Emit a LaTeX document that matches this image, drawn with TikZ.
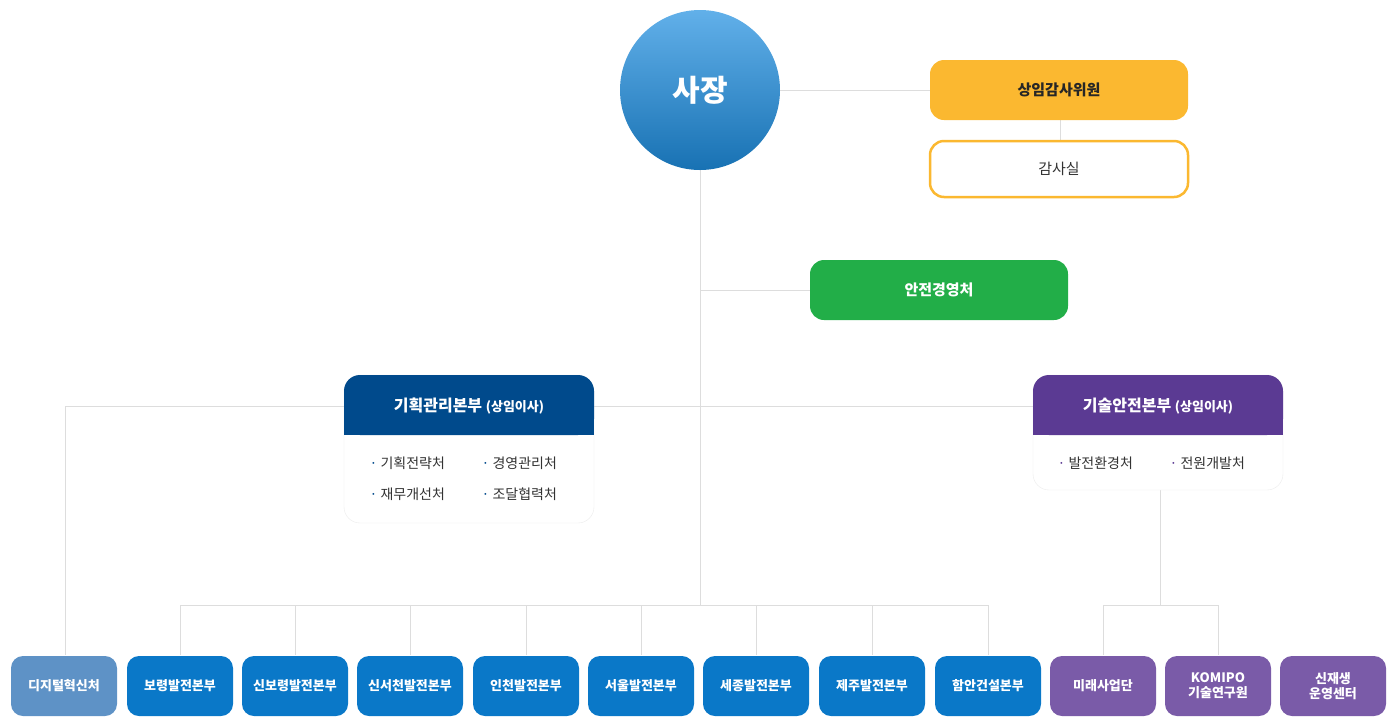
\documentclass[tikz,border=0pt]{standalone}
\usepackage{fontspec}
\setmainfont{Noto Sans CJK KR}
\usetikzlibrary{positioning}
\definecolor{ceoblue}{HTML}{1E8EE0}
\definecolor{audityellow}{HTML}{FBB830}
\definecolor{safegreen}{HTML}{22AE48}
\definecolor{planblue}{HTML}{004A8C}
\definecolor{techpurple}{HTML}{5B3A93}
\definecolor{unitblue}{HTML}{0A78C8}
\definecolor{digiblue}{HTML}{5E92C6}
\definecolor{newpurple}{HTML}{7A5BA8}
\definecolor{linegray}{HTML}{DDDDDD}
\tikzset{
  conn/.style={draw=linegray, line width=0.8pt},
  topbox/.style={rounded corners=14pt, minimum width=258pt, minimum height=60pt, font=\fontsize{15}{18}\selectfont\bfseries},
  unitbox/.style={rounded corners=12pt, minimum width=106pt, minimum height=60pt, text=white, align=center, font=\fontsize{13}{15}\selectfont\bfseries},
  itemtext/.style={font=\fontsize{14}{16}\selectfont, text=black!80, anchor=west}
}
\begin{document}
\begin{tikzpicture}[x=1pt, y=-1pt]
  \useasboundingbox (0,0) rectangle (1400,716);

  % trunk and branches
  \coordinate (trunkT) at (700,170);
  \coordinate (trunkB) at (700,605);
  \draw[conn] (trunkT) -- (trunkB);
  \draw[conn] (700,290) -- (810,290);
  \draw[conn] (780,90) -- (930,90);
  \draw[conn] (1060,120) -- (1060,140);
  \draw[conn] (65,406) -- (1033,406);
  \draw[conn] (65,406) -- (65,655);
  \draw[conn] (180,605) -- (988,605);
  \foreach \x in {180,295,410,526,641,756,872,988}
    \draw[conn] (\x,605) -- (\x,655);
  \draw[conn] (1160,490) -- (1160,605);
  \draw[conn] (1103,605) -- (1218,605);
  \draw[conn] (1103,605) -- (1103,655);
  \draw[conn] (1218,605) -- (1218,655);

  % president
  \node[circle, minimum size=160pt, inner sep=0pt, top color=ceoblue!70, bottom color=ceoblue!80!black, text=white,
        font=\fontsize{30}{34}\selectfont\bfseries] (ceo) at (700,90) {사장};

  % audit
  \node[topbox, fill=audityellow, text=black!85] (audit) at (1059,90) {상임감사위원};
  \node[topbox, draw=audityellow, line width=2.5pt, fill=white, minimum height=56pt,
        font=\fontsize{15}{18}\selectfont, text=black!80] (auditoffice) at (1059,169) {감사실};

  % safety
  \node[topbox, fill=safegreen, text=white] (safety) at (939,290) {안전경영처};

  % planning division
  \fill[white, rounded corners=16pt, draw=black!8] (344,375) rectangle (594,523);
  \fill[planblue, rounded corners=16pt] (344,375) rectangle (594,435);
  \fill[planblue] (344,415) rectangle (594,435);
  \node[text=white, font=\fontsize{16}{18}\selectfont\bfseries] (plan) at (469,406) {기획관리본부 {\fontsize{13}{15}\selectfont(상임이사)}};
  \node[itemtext] (p1) at (366,463) {{\color{planblue}·}\ 기획전략처};
  \node[itemtext] (p2) at (478,463) {{\color{planblue}·}\ 경영관리처};
  \node[itemtext] (p3) at (366,494) {{\color{planblue}·}\ 재무개선처};
  \node[itemtext] (p4) at (478,494) {{\color{planblue}·}\ 조달협력처};

  % technology division
  \fill[white, rounded corners=16pt, draw=black!8] (1033,375) rectangle (1283,490);
  \fill[techpurple, rounded corners=16pt] (1033,375) rectangle (1283,435);
  \fill[techpurple] (1033,415) rectangle (1283,435);
  \node[text=white, font=\fontsize{16}{18}\selectfont\bfseries] (tech) at (1158,406) {기술안전본부 {\fontsize{13}{15}\selectfont(상임이사)}};
  \node[itemtext] (t1) at (1054,463) {{\color{techpurple}·}\ 발전환경처};
  \node[itemtext] (t2) at (1166,463) {{\color{techpurple}·}\ 전원개발처};

  % bottom units
  \node[unitbox, fill=digiblue] (u1) at (64,686) {디지털혁신처};
  \foreach \x/\name/\lbl in {180/u2/보령발전본부, 295/u3/신보령발전본부, 410/u4/신서천발전본부, 526/u5/인천발전본부,
                             641/u6/서울발전본부, 756/u7/세종발전본부, 872/u8/제주발전본부, 988/u9/함안건설본부}
    \node[unitbox, fill=unitblue] (\name) at (\x,686) {\lbl};
  \node[unitbox, fill=newpurple] (u10) at (1103,686) {미래사업단};
  \node[unitbox, fill=newpurple] (u11) at (1218,686) {KOMIPO\\기술연구원};
  \node[unitbox, fill=newpurple] (u12) at (1333,686) {신재생\\운영센터};
\end{tikzpicture}
\end{document}
